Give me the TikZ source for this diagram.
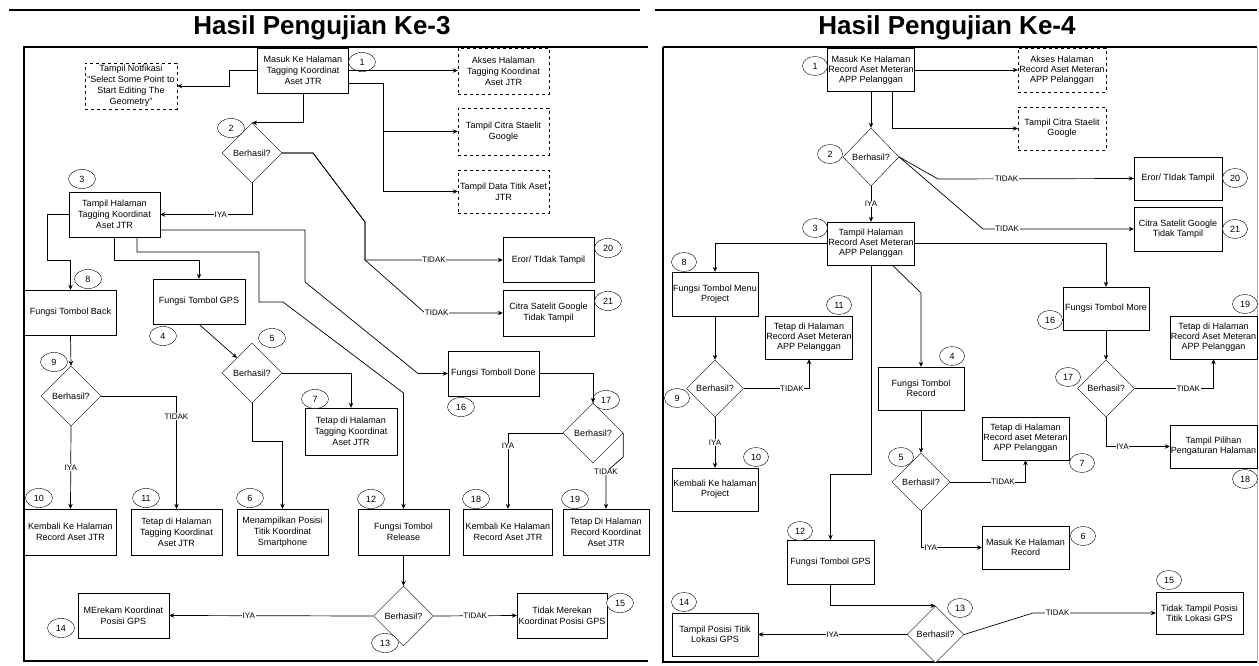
\documentclass[tikz,border=0pt]{standalone}
\usepackage{fontspec}
\setmainfont{Liberation Sans}
\usetikzlibrary{arrows.meta,shapes.geometric}

\begin{document}
\begin{tikzpicture}[
    x=1pt, y=-1pt,
    font=\fontsize{9}{11}\selectfont,
    box/.style={draw, minimum width=91pt, minimum height=45pt, align=center, inner sep=1pt, fill=white},
    rbox/.style={box, minimum width=87pt, minimum height=43pt, font=\fontsize{9}{10}\selectfont},
    dbox/.style={box, dashed},
    dec/.style={diamond, draw, minimum width=60pt, minimum height=60pt, inner sep=0pt, fill=white},
    rdec/.style={dec, minimum width=57pt, minimum height=57pt},
    num/.style={ellipse, draw, minimum width=27pt, minimum height=19pt, inner sep=0pt, fill=white},
    lbl/.style={fill=white, inner sep=0.6pt, font=\fontsize{8}{9}\selectfont},
    arr/.style={-{Stealth[length=5pt, width=4.5pt]}, line width=0.7pt},
    ln/.style={line width=0.7pt},
    frame/.style={line width=1.8pt},
    ttl/.style={font=\fontsize{26}{30}\selectfont\bfseries},
  ]
  \useasboundingbox (0,0) rectangle (1259,666);

  % Headers and panel frames
  \draw [line width=2pt] (9,10) -- (640,10);
  \draw [line width=2pt] (655,10) -- (1257,10);
  \node (ttl3) [ttl] at (322,28) {Hasil Pengujian Ke-3};
  \node (ttl4) [ttl] at (947,28) {Hasil Pengujian Ke-4};
  \draw [line width=1.2pt] (23,47) -- (648,47);
  \draw [frame] (24,47) -- (24,661) -- (648,661);
  \draw [line width=1.2pt] (663,47) -- (1257,47);
  \draw [frame] (663,47) -- (663,662) -- (1257,662);
  \draw [gray!60, line width=0.8pt] (1257,47) -- (1257,662);

  % Pengujian Ke-3: nodes
  \node (L1) [box] at (303,70.5) {Masuk Ke Halaman\\Tagging Koordinat\\Aset JTR};
  \node (Lnotif) [dbox, minimum width=92pt, minimum height=46pt] at (131,86) {Tampil Notfikasi\\``Select Some Point to\\Start Editing The\\Geometry''};
  \node (Lakses) [dbox, minimum height=46pt] at (503.5,71) {Akses Halaman\\Tagging Koordinat\\Aset JTR};
  \node (Lcitra) [dbox, minimum height=47pt] at (503.5,131.5) {Tampil Citra Staelit\\Google};
  \node (Ldata) [dbox, minimum height=43pt] at (503.5,191.5) {Tampil Data Titik Aset\\JTR};
  \node (Ld2) [dec] at (252,153) {Berhasil?};
  \node (L3) [box] at (114.5,214.5) {Tampil Halaman\\Tagging Koordinat\\Aset JTR};
  \node (L20) [box] at (548.5,260) {Eror/ TIdak Tampil};
  \node (L21) [box, minimum height=46pt] at (548.5,313) {Citra Satelit Google\\Tidak Tampil};
  \node (L8) [box, minimum width=92pt] at (70.5,312.5) {Fungsi Tombol Back};
  \node (L4) [box, minimum width=92pt] at (199,301.5) {Fungsi Tombol GPS};
  \node (Ld9) [dec] at (71,396) {Berhasil?};
  \node (L10) [box, minimum width=92pt, minimum height=46pt] at (70.5,532) {Kembali Ke Halaman\\Record Aset JTR};
  \node (L11) [box, minimum height=46pt] at (176.5,532) {Tetap di Halaman\\Tagging Koordinat\\Aset JTR};
  \node (Ld5) [dec] at (252,373) {Berhasil?};
  \node (L6) [box, minimum height=46pt] at (282.5,532) {Menampilkan Posisi\\Titik Koordinat\\Smartphone};
  \node (L7) [box, minimum width=92pt, minimum height=47pt] at (351,431.5) {Tetap di Halaman\\Tagging Koordinat\\Aset JTR};
  \node (Ldone) [box] at (493.5,373.5) {Fungsi Tomboll Done};
  \node (Ld17) [dec] at (593,433) {Berhasil?};
  \node (L18) [box, minimum width=89pt, minimum height=46pt] at (508,532) {Kembali Ke Halaman\\Record Aset JTR};
  \node (L19) [box, minimum width=86pt, minimum height=46pt] at (606,532) {Tetap Di Halaman\\Record Koordinat\\Aset JTR};
  \node (L12) [box, minimum height=46pt] at (403.5,532) {Fungsi Tombol\\Release};
  \node (Ld13) [dec] at (403.5,616) {Berhasil?};
  \node (L14) [box] at (123.5,615.5) {MErekam Koordinat\\Posisi GPS};
  \node (L15) [box, minimum width=90pt] at (562,615.5) {Tidak Merekan\\Koordinat Posisi GPS};

  % Pengujian Ke-3: step numbers
  \node (nL1) [num] at (362,62) {1};
  \node (nL2) [num] at (231,128) {2};
  \node (nL3) [num] at (82,179) {3};
  \node (nL4) [num] at (163,336) {4};
  \node (nL5) [num] at (272,338) {5};
  \node (nL6) [num] at (250,498) {6};
  \node (nL7) [num] at (315,399) {7};
  \node (nL8) [num] at (88,279) {8};
  \node (nL9) [num] at (54,362) {9};
  \node (nL10) [num] at (39,498) {10};
  \node (nL11) [num] at (146,498) {11};
  \node (nL12) [num] at (371,499) {12};
  \node (nL13) [num] at (385,643) {13};
  \node (nL14) [num] at (61,628) {14};
  \node (nL15) [num] at (620,603) {15};
  \node (nL16) [num] at (461,407) {16};
  \node (nL17) [num] at (606,400) {17};
  \node (nL18) [num] at (476,499) {18};
  \node (nL19) [num] at (575,499) {19};
  \node (nL20) [num] at (608,248) {20};
  \node (nL21) [num] at (608,301) {21};

  % Pengujian Ke-3: connectors
  \draw [arr] (L1.west) -- ++(-28,0) |- (Lnotif.east);
  \draw [arr] (L1.east) -- (L1.east -| Lakses.west);
  \draw [arr] ([yshift=-12.5pt]L1.east) -- ++(35,0) |- (Lcitra.west);
  \draw [arr] ([yshift=-12.5pt]L1.east) -- ++(35,0) |- (Ldata.west);
  \draw [arr] (L1.south) |- (Ld2.north);
  \draw [arr] (Ld2.south) |- node[lbl, pos=0.67] {IYA} (L3.east);
  \draw [arr] (Ld2.east) -- (313,153) -- (365,222) -- (365,260) -- node[lbl] {TIDAK} (L20.west);
  \draw [arr] (Ld2.east) -- (313,153) -- (365,222) -- (365,260) -- (425,313) -- node[lbl, pos=0.15] {TIDAK} (L21.west);
  \draw [arr] (L3.west) -- ++(-21,0) |- ([yshift=29pt]L8.north) -- (L8.north);
  \draw [arr] (L3.south) |- ([yshift=18pt]L4.north) -- (L4.north);
  \draw [arr] ([xshift=22.5pt]L3.south) |- (259,252) |- (283,302) -- (L12.north |- 0,393) -- (L12.north);
  \draw [arr] ([yshift=-15.5pt]L3.east) -- (305,230) -- (305,282) -- (418,373.5) -- (Ldone.west);
  \draw [arr] (L8.south) -- (Ld9.north);
  \draw [arr] (Ld9.south) -- node[lbl] {IYA} (L10.north);
  \draw [arr] (Ld9.east) -| node[lbl, pos=0.59] {TIDAK} (L11.north);
  \draw [arr] (L4.south) -- (Ld5.north west);
  \draw [arr] (Ld5.south) -- ++(0,38) -| (L6.north);
  \draw [arr] (Ld5.east) -| (L7.north);
  \draw [arr] (Ldone.east) -| (Ld17.north);
  \draw [arr] (Ld17.west) -| node[lbl, pos=0.585] {IYA} (L18.north);
  \draw [arr] (Ld17.east) -- ++(0,24) -- node[lbl, pos=1] {TIDAK} (L19.north |- 0,472) -- (L19.north);
  \draw [arr] (L12.south) -- (Ld13.north);
  \draw [arr] (Ld13.west) -- node[lbl, pos=0.61] {IYA} (L14.east);
  \draw [arr] (Ld13.east) -- node[lbl] {TIDAK} (L15.west);

  % Pengujian Ke-4: nodes
  \node (R1) [rbox] at (871,70) {Masuk Ke Halaman\\Record Aset Meteran\\APP Pelanggan};
  \node (Rakses) [rbox, dashed, minimum width=88pt, minimum height=44pt] at (1062,70) {Akses Halaman\\Record Aset Meteran\\APP Pelanggan};
  \node (Rcitra) [rbox, dashed, minimum width=88pt] at (1062,128.5) {Tampil Citra Staelit\\Google};
  \node (Rd2) [rdec, minimum width=56pt, minimum height=58pt] at (871,157) {Berhasil?};
  \node (R20) [rbox, minimum width=88pt] at (1178,178.5) {Eror/ TIdak Tampil};
  \node (R21) [rbox, minimum width=88pt, minimum height=44pt] at (1178,229) {Citra Satelit Google\\Tidak Tampil};
  \node (R3) [rbox] at (871,243.5) {Tampil Halaman\\Record Aset Meteran\\APP Pelanggan};
  \node (R8) [rbox, minimum width=86pt, minimum height=44pt] at (715,294) {Fungsi Tombol Menu\\Project};
  \node (Rd9) [rdec] at (715,388.5) {Berhasil?};
  \node (R11) [rbox, minimum width=86pt] at (809,337.5) {Tetap di Halaman\\Record Aset Meteran\\APP Pelanggan};
  \node (R10) [rbox, minimum width=86pt] at (715,489.5) {Kembali Ke halaman\\Project};
  \node (R4) [rbox, minimum width=86pt] at (921,388.5) {Fungsi Tombol\\Record};
  \node (Rd5) [rdec, minimum width=58pt, minimum height=58pt] at (921,482) {Berhasil?};
  \node (R7) [rbox] at (1025.5,438.5) {Tetap di Halaman\\Record aset Meteran\\APP Pelanggan};
  \node (R6) [rbox] at (1025.5,547.5) {Masuk Ke Halaman\\Record};
  \node (R16) [rbox, minimum width=86pt] at (1106,308.5) {Fungsi Tombol More};
  \node (Rd17) [rdec] at (1106,388.5) {Berhasil?};
  \node (R19) [rbox] at (1213.5,337.5) {Tetap di Halaman\\Record Aset Meteran\\APP Pelanggan};
  \node (R18) [rbox] at (1213.5,446.5) {Tampil Pilihan\\Pengaturan Halaman};
  \node (R12) [rbox, minimum height=44pt] at (830.5,562) {Fungsi Tombol GPS};
  \node (Rd13) [rdec] at (935.5,634.5) {Berhasil?};
  \node (R14) [rbox, minimum width=86pt] at (715,634.5) {Tampil Posisi Titik\\Lokasi GPS};
  \node (R15) [rbox, minimum height=42pt] at (1199.5,613) {Tidak Tampil Posisi\\Titik Lokasi GPS};

  % Pengujian Ke-4: step numbers
  \node (nR1) [num, minimum width=25pt] at (815,66) {1};
  \node (nR2) [num, minimum width=25pt] at (830,154) {2};
  \node (nR3) [num, minimum width=25pt] at (815,228) {3};
  \node (nR4) [num, minimum width=25pt] at (952,356) {4};
  \node (nR5) [num, minimum width=25pt] at (901,457) {5};
  \node (nR6) [num, minimum width=25pt] at (1083,536) {6};
  \node (nR7) [num, minimum width=25pt] at (1082,463) {7};
  \node (nR8) [num, minimum width=25pt] at (684,262) {8};
  \node (nR9) [num, minimum width=25pt] at (677,398) {9};
  \node (nR10) [num, minimum width=25pt] at (756,457) {10};
  \node (nR11) [num, minimum width=25pt] at (839,305) {11};
  \node (nR12) [num, minimum width=25pt] at (800,531) {12};
  \node (nR13) [num, minimum width=25pt] at (960,608) {13};
  \node (nR14) [num, minimum width=25pt] at (684,602) {14};
  \node (nR15) [num, minimum width=25pt] at (1169,580) {15};
  \node (nR16) [num, minimum width=25pt] at (1050,320) {16};
  \node (nR17) [num, minimum width=25pt] at (1068,377) {17};
  \node (nR18) [num, minimum width=25pt] at (1245,479) {18};
  \node (nR19) [num, minimum width=25pt] at (1245,304) {19};
  \node (nR20) [num, minimum width=25pt] at (1235,178) {20};
  \node (nR21) [num, minimum width=25pt] at (1235,229) {21};

  % Pengujian Ke-4: connectors
  \draw [arr] (R1.east) -- (Rakses.west);
  \draw [arr] ([xshift=21.5pt]R1.south) |- (Rcitra.west);
  \draw [arr] (R1.south) -- (Rd2.north);
  \draw [arr] (Rd2.east) -- (938,179) -- node[lbl, pos=0.35] {TIDAK} (R20.west);
  \draw [arr] (Rd2.east) -- (983,229) -- node[lbl, pos=0.16] {TIDAK} (R21.west);
  \draw [arr] (Rd2.south) -- node[lbl] {IYA} (R3.north);
  \draw [arr] (R3.west) -| (R8.north);
  \draw [arr] (R3.east) -| (R16.north);
  \draw [arr] ([xshift=21.5pt]R3.south) -- (R4.north |- 0,293) -- (R4.north);
  \draw [arr] (R3.south) |- ([yshift=65pt]R12.north) -- (R12.north);
  \draw [arr] (R8.south) -- (Rd9.north);
  \draw [arr] (Rd9.east) -| node[lbl, pos=0.37] {TIDAK} (R11.south);
  \draw [arr] (Rd9.south) -- node[lbl] {IYA} (R10.north);
  \draw [arr] (R4.south) -- (Rd5.north);
  \draw [arr] (Rd5.east) -| node[lbl, pos=0.35] {TIDAK} (R7.south);
  \draw [arr] (Rd5.south) |- node[lbl, pos=0.58] {IYA} (R6.west);
  \draw [arr] (R16.south) -- (Rd17.north);
  \draw [arr] (Rd17.east) -| node[lbl, pos=0.34] {TIDAK} (R19.south);
  \draw [arr] (Rd17.south) |- node[lbl, pos=0.63] {IYA} (R18.west);
  \draw [arr] (R12.south) |- (Rd13.north);
  \draw [arr] (Rd13.west) -- node[lbl] {IYA} (R14.east);
  \draw [arr] (Rd13.east) -- (1033,613) -- node[lbl, pos=0.2] {TIDAK} (R15.west);
\end{tikzpicture}
\end{document}
